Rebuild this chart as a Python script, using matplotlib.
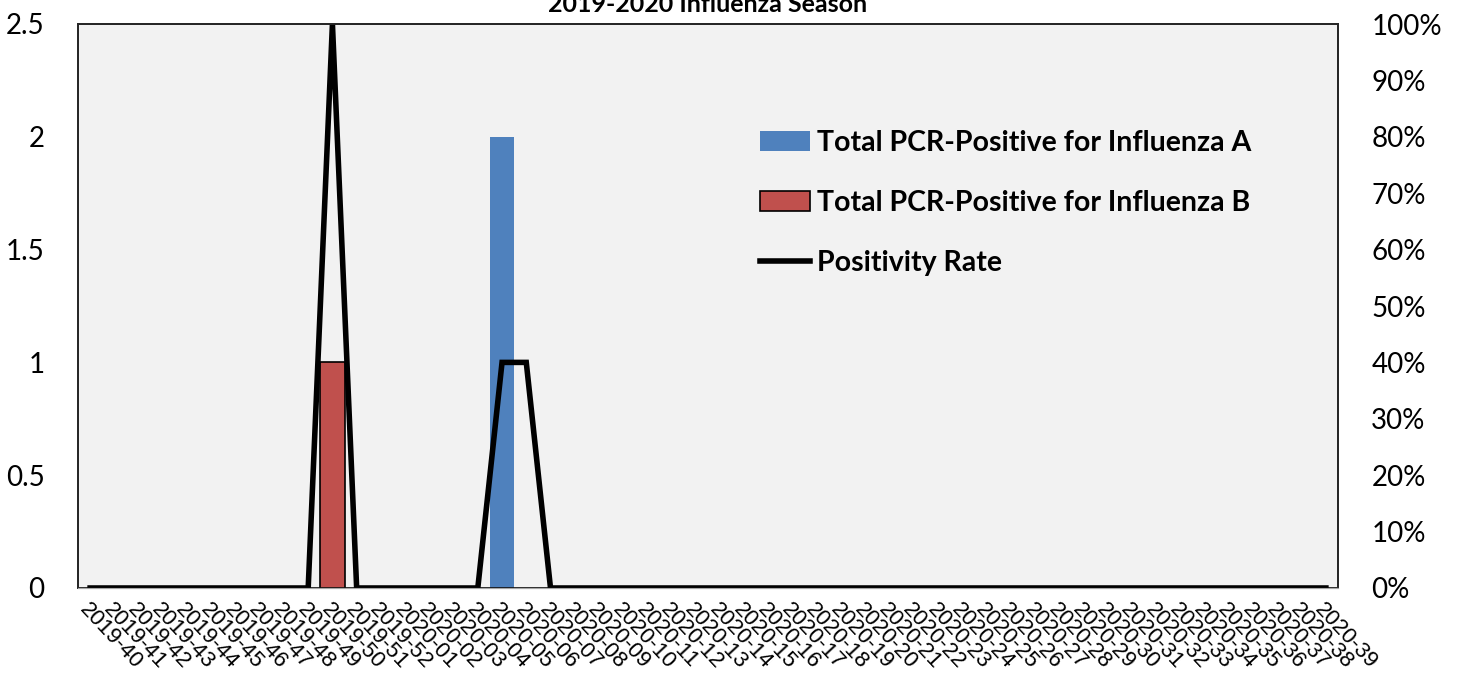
import matplotlib.pyplot as plt
from matplotlib.ticker import FuncFormatter

# --- data ---
weeks = ["2019-%02d" % w for w in range(40, 53)] + ["2020-%02d" % w for w in range(1, 40)]

flu_a = [0, 0, 0, 0, 0, 0, 0, 0, 0, 0, 0, 0, 0,
         0, 0, 0, 0, 2, 0, 0, 0, 0, 0, 0, 0, 0,
         0, 0, 0, 0, 0, 0, 0, 0, 0, 0, 0, 0, 0,
         0, 0, 0, 0, 0, 0, 0, 0, 0, 0, 0, 0, 0]
flu_b = [0, 0, 0, 0, 0, 0, 0, 0, 0, 0, 1, 0, 0,
         0, 0, 0, 0, 0, 0, 0, 0, 0, 0, 0, 0, 0,
         0, 0, 0, 0, 0, 0, 0, 0, 0, 0, 0, 0, 0,
         0, 0, 0, 0, 0, 0, 0, 0, 0, 0, 0, 0, 0]
positivity = [0, 0, 0, 0, 0, 0, 0, 0, 0, 0, 100, 0, 0,
              0, 0, 0, 0, 40, 40, 0, 0, 0, 0, 0, 0, 0,
              0, 0, 0, 0, 0, 0, 0, 0, 0, 0, 0, 0, 0,
              0, 0, 0, 0, 0, 0, 0, 0, 0, 0, 0, 0, 0]

num_font = "Lato"
x = list(range(len(weeks)))

fig = plt.figure(figsize=(14.58, 6.79), dpi=100)
ax = fig.add_axes([78 / 1458, 1 - 588 / 679, 1260 / 1458, 564 / 679])
ax.set_facecolor("#F2F2F2")

# bars never overlap, so both start at 0
bar_a = ax.bar(x, flu_a, width=1.0, color="#4F81BD", label="Total PCR-Positive for Influenza A")
bar_b = ax.bar(x, flu_b, width=1.0, color="#C0504D", edgecolor="black",
               linewidth=1.2, label="Total PCR-Positive for Influenza B")

ax.set_xlim(-0.5, len(weeks) - 0.5)
ax.set_ylim(0, 2.5)
ax.set_yticks([0, 0.5, 1, 1.5, 2, 2.5])
ax.set_yticklabels(["0", "0.5", "1", "1.5", "2", "2.5"], fontsize=20, fontfamily=num_font)
ax.set_xticks(x)
ax.set_xticklabels(weeks, rotation=-47, ha="left", rotation_mode="anchor",
                   fontsize=16, fontfamily="Liberation Sans")
ax.tick_params(axis="both", length=0)
ax.tick_params(axis="y", pad=24)
ax.tick_params(axis="x", pad=8)

ax2 = ax.twinx()
line, = ax2.plot(x, positivity, color="black", linewidth=4, solid_joinstyle="miter",
                 label="Positivity Rate")
ax2.set_ylim(0, 100)
ax2.set_yticks(range(0, 101, 10))
ax2.yaxis.set_major_formatter(FuncFormatter(lambda v, p: "%d%%" % v))
for t in ax2.get_yticklabels():
    t.set_fontsize(20)
    t.set_fontfamily(num_font)
ax2.tick_params(axis="y", length=0, pad=24)

for a in (ax, ax2):
    for s in ("left", "right", "top"):
        a.spines[s].set_color("#262626")
        a.spines[s].set_linewidth(1.3)
    a.spines["bottom"].set_color("#A6A6A6")

leg = ax2.legend([bar_a, bar_b, line],
                 ["Total PCR-Positive for Influenza A",
                  "Total PCR-Positive for Influenza B",
                  "Positivity Rate"],
                 loc="upper left", bbox_to_anchor=(0.521, 0.858), frameon=False,
                 prop={"family": num_font, "weight": "bold", "size": 20.5},
                 labelspacing=1.2, handlelength=1.75, handletextpad=0.25,
                 handleheight=0.7)

fig.text(0.485, 1 - 12 / 679, "2019-2020 Influenza Season", ha="center", va="baseline",
         fontsize=18, fontweight="bold", fontfamily=num_font)

fig.savefig("out.png", dpi=100)
